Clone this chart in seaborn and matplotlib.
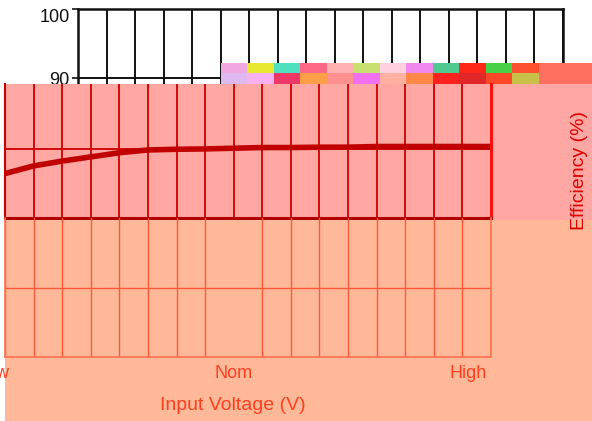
import numpy as np
import pandas as pd
import matplotlib
matplotlib.use("Agg")
import matplotlib.pyplot as plt
import seaborn as sns

# --- data ---
grid_pos = list(range(18))
efficiency = [76.4, 77.5, 78.2, 78.8, 79.4, 79.8, 79.9, 79.95, 80.05, 80.15,
              80.15, 80.2, 80.2, 80.3, 80.3, 80.3, 80.3, 80.3]
x_tick_pos = [0.15, 8, 16.2]
x_tick_labels = ["Low", "Nom", "High"]
y_ticks_top = [90, 100]

# colours of the glitch strip (top row / bottom row), left to right
strip_top = ["#F0A8E0", "#E8E830", "#50E0C0", "#FF6888", "#FFB0B0", "#C8E070",
             "#FFD0E0", "#F088F0", "#50C890", "#FF2818", "#48D048", "#FF5030",
             "#FF7060", "#FF7060"]
strip_bot = ["#E0B8F0", "#F8B0F0", "#F03868", "#FFA048", "#FF9090", "#F070F0",
             "#FFB0A0", "#FF8848", "#FF2020", "#E02828", "#FF4828", "#C8C048",
             "#FF7060", "#FF7060"]

W, H = 592, 421
sns.set_theme(style="white")
plt.rcParams["font.family"] = ["Liberation Sans", "DejaVu Sans"]

fig = plt.figure(figsize=(W / 100, H / 100), dpi=100)
fig.patch.set_facecolor("white")


def px(l, t, r, b):
    return [l / W, 1 - b / H, (r - l) / W, (b - t) / H]


df = pd.DataFrame({"v": grid_pos, "eff": efficiency})

# --- top layer: original black chart, only the top strip visible ---
ax1 = fig.add_axes(px(78, 9, 563, 84))
ax1.set_xlim(0, 17)
ax1.set_ylim(89.2, 100)
ax1.set_xticks(grid_pos)
ax1.set_xticklabels([])
ax1.set_yticks(y_ticks_top)
ax1.set_yticklabels([str(t) for t in y_ticks_top], fontsize=13, color="#111111")
ax1.get_yticklabels()[1].set_va("top")
ax1.tick_params(axis="y", direction="out", length=4, width=1.2, color="#111111", pad=2, left=True)
ax1.tick_params(axis="x", length=0)
ax1.grid(True, color="#111111", linewidth=1.4)
for s in ["top", "left", "right"]:
    ax1.spines[s].set_color("#111111")
    ax1.spines[s].set_linewidth(1.8)
ax1.spines["bottom"].set_visible(False)

# --- glitch strip ---
axs = fig.add_axes(px(221, 63, 592, 84))
img = np.array([[matplotlib.colors.to_rgb(c) for c in strip_top],
                [matplotlib.colors.to_rgb(c) for c in strip_bot]])
axs.imshow(img, aspect="auto", interpolation="nearest")
axs.set_axis_off()

# --- pink band ---
axb = fig.add_axes(px(5, 84, 592, 220))
axb.set_facecolor("#FFA7A2")
axb.set_xticks([])
axb.set_yticks([])
for s in axb.spines.values():
    s.set_visible(False)

ax2 = fig.add_axes(px(5, 84, 491, 218))
ax2.patch.set_alpha(0)
ax2.set_xlim(0, 17)
ax2.set_ylim(70, 89.3)
ax2.set_xticks(grid_pos)
ax2.set_yticks([70, 80])
ax2.set_xticklabels([])
ax2.set_yticklabels([])
ax2.tick_params(length=0)
ax2.grid(True, color="#CC0000", linewidth=1.3)
sns.lineplot(data=df, x="v", y="eff", ax=ax2, color="#C00000", linewidth=4)
ax2.set_xlabel("")
ax2.set_ylabel("")
ax2.spines["top"].set_visible(False)
ax2.spines["left"].set_color("#CC0000")
ax2.spines["left"].set_linewidth(1.5)
ax2.spines["right"].set_color("#FF1010")
ax2.spines["right"].set_linewidth(2.2)
ax2.spines["bottom"].set_color("#B00000")
ax2.spines["bottom"].set_linewidth(2.2)

# --- orange bottom ---
axo = fig.add_axes(px(5, 220, 592, 421))
axo.set_facecolor("#FFB898")
axo.set_xticks([])
axo.set_yticks([])
for s in axo.spines.values():
    s.set_visible(False)

ax3 = fig.add_axes(px(5, 218, 491, 357))
ax3.patch.set_alpha(0)
ax3.set_xlim(0, 17)
ax3.set_ylim(50, 70)
ax3.set_xticks(grid_pos, minor=True)
ax3.set_xticks(x_tick_pos)
ax3.set_xticklabels(x_tick_labels, fontsize=13, color="#FF4020")
ax3.get_xticklabels()[0].set_ha("right")
ax3.set_yticks([60])
ax3.set_yticklabels([])
ax3.tick_params(axis="both", which="both", length=0, pad=6)
ax3.grid(False)
ax3.grid(True, which="minor", axis="x", color="#FF5A38", linewidth=1.0)
ax3.grid(True, which="major", axis="y", color="#FF5A38", linewidth=1.0)
ax3.spines["top"].set_visible(False)
for s in ["left", "right", "bottom"]:
    ax3.spines[s].set_color("#FF7050")
    ax3.spines[s].set_linewidth(1.2)

fig.text(233 / W, 1 - 405 / H, "Input Voltage (V)", fontsize=14,
         color="#FF4020", ha="center", va="center")
fig.text(580 / W, 1 - 171 / H, "Efficiency (%)", rotation=90, fontsize=14,
         color="#E00000", ha="center", va="center")

fig.savefig("out.png", dpi=100)
